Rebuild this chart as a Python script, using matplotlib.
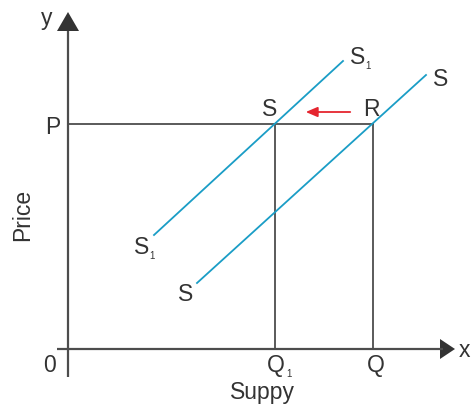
import matplotlib
matplotlib.use("Agg")
import matplotlib.pyplot as plt

# price level and quantities (units measured from the origin)
P = 225
Q1 = 207
Q = 305

# supply curves: end points
s1_x = [86, 275]
s1_y = [114, 288]
s_x = [129, 358]
s_y = [66, 274]

# shift arrow from R towards S
shift_x = [285, 235]
shift_y = [237, 237]

axis_col = "#4d4d4d"
line_col = "#1a9dc6"
text_col = "#333333"
fnt = "Liberation Sans"
fs = 16.5

fig = plt.figure(figsize=(4.72, 4.06), dpi=100)
ax = fig.add_axes([0, 0, 1, 1])
ax.set_xlim(-68, 404)
ax.set_ylim(-56, 350)
ax.axis("off")

# axes with arrow heads
ax.plot([-11, 375], [0, 0], color=axis_col, lw=1.6, solid_capstyle="butt")
ax.plot([0, 0], [-28, 318], color=axis_col, lw=1.6, solid_capstyle="butt")
ax.fill([372, 387, 372], [-10, 0, 10], color="#333333", lw=0)
ax.fill([-11, 0, 11], [318, 337, 318], color="#333333", lw=0)

# price line and quantity drop lines
ax.plot([0, Q], [P, P], color=axis_col, lw=1.3)
ax.plot([Q1, Q1], [0, P], color=axis_col, lw=1.3)
ax.plot([Q, Q], [0, P], color=axis_col, lw=1.3)

# supply curves
ax.plot(s1_x, s1_y, color=line_col, lw=1.3)
ax.plot(s_x, s_y, color=line_col, lw=1.3)

# shift arrow
ax.annotate("", xy=(shift_x[1], shift_y[1]), xytext=(shift_x[0], shift_y[0]),
            arrowprops=dict(arrowstyle="-|>,head_length=0.7,head_width=0.3",
                            color="#e5252f", lw=1.3))

def label(x, y, s, sub=None, dx=10, size=fs, rot=0):
    ax.text(x, y, s, fontsize=size, fontname=fnt, color=text_col,
            ha="center", va="center", rotation=rot)
    if sub:
        ax.text(x + dx, y - 8, sub, fontsize=7, fontname=fnt,
                color=text_col, ha="center", va="center")

label(-21, 332, "y")
label(-15, 222, "P")
label(-19, -16, "0")
label(208, -16, "Q", "1", dx=13)
label(308, -16, "Q")
label(396, -1, "x")
label(194, -43, "Suppy")
label(-45, 135, "Price", rot=90)
label(373, 270, "S")
label(290, 292, "S", "1")
label(202, 240, "S")
label(303, 240, "R")
label(74, 102, "S", "1")
label(118, 55, "S")

fig.savefig("out.png", dpi=100)
